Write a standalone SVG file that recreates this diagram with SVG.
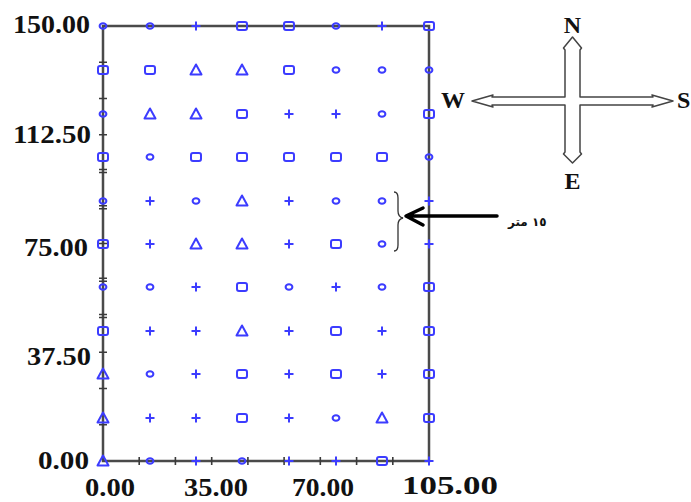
<svg xmlns="http://www.w3.org/2000/svg" xmlns:xlink="http://www.w3.org/1999/xlink" width="691" height="502" viewBox="0 0 691 502">
<style>
.ax{stroke:#4a4a4a;stroke-width:2.5;fill:none}
.tk{stroke:#3a3a3a;stroke-width:1.6}
.lbl{font-family:"Liberation Serif","Times New Roman",serif;font-weight:bold;font-size:25px;fill:#111}
.cmp{font-family:"Liberation Serif","Times New Roman",serif;font-weight:bold;font-size:24px;fill:#111}
.mk{stroke:#3c3cff;stroke-width:2;fill:none;stroke-linejoin:round}
</style>
<defs>
<ellipse id="o" class="mk" cx="0" cy="0" rx="3.4" ry="2.8"/>
<rect id="s" class="mk" x="-5" y="-4" width="10" height="8" rx="2"/>
<path id="t" class="mk" d="M0,-5.5 L5.5,4.5 L-5.5,4.5 Z"/>
<path id="p" class="mk" d="M-4.5,0 H4.5 M0,-4.5 V4.5"/>
</defs>
<rect width="691" height="502" fill="#fff"/>
<g id="axes">
<rect class="ax" x="103" y="26" width="326" height="435"/>
<path class="tk" d="M99,62.2h8M99,98.5h8M99,134.8h8M99,169.5h8M99,172.5h8M99,205.8h8M99,208.8h8M99,243.5h8M99,278.3h8M99,281.3h8M99,314.5h8M99,317.5h8M99,352.2h8M99,388.5h8M99,424.8h8"/>
<path class="tk" d="M139.2,457v8M175.4,457v8M211.7,457v8M247.9,457v8M284.1,457v8M320.3,457v8M356.6,457v8M392.8,457v8"/>
</g>
<g id="axis-labels">
<text class="lbl" x="13" y="33" textLength="77" lengthAdjust="spacingAndGlyphs">150.00</text>
<text class="lbl" x="13" y="143" textLength="78" lengthAdjust="spacingAndGlyphs">112.50</text>
<text class="lbl" x="24" y="256" textLength="64" lengthAdjust="spacingAndGlyphs">75.00</text>
<text class="lbl" x="27" y="365" textLength="64" lengthAdjust="spacingAndGlyphs">37.50</text>
<text class="lbl" x="38" y="469" textLength="51" lengthAdjust="spacingAndGlyphs">0.00</text>
<text class="lbl" x="85" y="496" textLength="50" lengthAdjust="spacingAndGlyphs">0.00</text>
<text class="lbl" x="184" y="496" textLength="64" lengthAdjust="spacingAndGlyphs">35.00</text>
<text class="lbl" x="292" y="496" textLength="62" lengthAdjust="spacingAndGlyphs">70.00</text>
<text class="lbl" x="402" y="494" textLength="96" lengthAdjust="spacingAndGlyphs">105.00</text>
</g>
<g id="markers">
<use href="#o" x="103" y="26"/><use href="#o" x="150" y="26"/><use href="#p" x="196" y="26"/><use href="#s" x="242" y="26"/><use href="#s" x="289" y="26"/><use href="#o" x="336" y="26"/><use href="#p" x="382" y="26"/><use href="#s" x="429" y="26"/>
<use href="#s" x="103" y="70"/><use href="#s" x="150" y="70"/><use href="#t" x="196" y="70"/><use href="#t" x="242" y="70"/><use href="#s" x="289" y="70"/><use href="#o" x="336" y="70"/><use href="#o" x="382" y="70"/><use href="#o" x="429" y="70"/>
<use href="#o" x="103" y="114"/><use href="#t" x="150" y="114"/><use href="#t" x="196" y="114"/><use href="#s" x="242" y="114"/><use href="#p" x="289" y="114"/><use href="#p" x="336" y="114"/><use href="#o" x="382" y="114"/><use href="#s" x="429" y="114"/>
<use href="#s" x="103" y="157"/><use href="#o" x="150" y="157"/><use href="#s" x="196" y="157"/><use href="#s" x="242" y="157"/><use href="#s" x="289" y="157"/><use href="#s" x="336" y="157"/><use href="#s" x="382" y="157"/><use href="#o" x="429" y="157"/>
<use href="#o" x="103" y="201"/><use href="#p" x="150" y="201"/><use href="#o" x="196" y="201"/><use href="#t" x="242" y="201"/><use href="#p" x="289" y="201"/><use href="#o" x="336" y="201"/><use href="#o" x="382" y="201"/><use href="#p" x="429" y="201"/>
<use href="#s" x="103" y="244"/><use href="#p" x="150" y="244"/><use href="#t" x="196" y="244"/><use href="#t" x="242" y="244"/><use href="#p" x="289" y="244"/><use href="#s" x="336" y="244"/><use href="#o" x="382" y="244"/><use href="#p" x="429" y="244"/>
<use href="#o" x="103" y="287"/><use href="#o" x="150" y="287"/><use href="#p" x="196" y="287"/><use href="#s" x="242" y="287"/><use href="#o" x="289" y="287"/><use href="#p" x="336" y="287"/><use href="#o" x="382" y="287"/><use href="#s" x="429" y="287"/>
<use href="#s" x="103" y="331"/><use href="#p" x="150" y="331"/><use href="#p" x="196" y="331"/><use href="#t" x="242" y="331"/><use href="#p" x="289" y="331"/><use href="#s" x="336" y="331"/><use href="#p" x="382" y="331"/><use href="#s" x="429" y="331"/>
<use href="#t" x="103" y="374"/><use href="#o" x="150" y="374"/><use href="#p" x="196" y="374"/><use href="#s" x="242" y="374"/><use href="#p" x="289" y="374"/><use href="#s" x="336" y="374"/><use href="#p" x="382" y="374"/><use href="#s" x="429" y="374"/>
<use href="#t" x="103" y="418"/><use href="#p" x="150" y="418"/><use href="#p" x="196" y="418"/><use href="#s" x="242" y="418"/><use href="#p" x="289" y="418"/><use href="#o" x="336" y="418"/><use href="#t" x="382" y="418"/><use href="#s" x="429" y="418"/>
<use href="#t" x="103" y="461"/><use href="#o" x="150" y="461"/><use href="#p" x="196" y="461"/><use href="#o" x="242" y="461"/><use href="#p" x="289" y="461"/><use href="#p" x="336" y="461"/><use href="#s" x="382" y="461"/><use href="#p" x="429" y="461"/>
</g>
<g id="compass">
<polygon points="572.5,37 581.5,48 580,50 580,97 653,97 652,95 673,101 652,107 653,105 580,105 580,152 581.5,154 572.5,163 563.5,154 565,152 565,105 492,105 493,107 472,101 493,95 492,97 565,97 565,50 563.5,48" fill="#fff" stroke="#444" stroke-width="1.5" stroke-linejoin="round"/>
<text class="cmp" x="572.5" y="33" text-anchor="middle">N</text>
<text class="cmp" x="572.5" y="189" text-anchor="middle">E</text>
<text class="cmp" x="465" y="108" text-anchor="end">W</text>
<text class="cmp" x="677" y="108">S</text>
</g>
<g id="annotation">
<path d="M394,192 Q398,192 398,198 L398,211 Q398,217 403,218 Q398,219 398,225 L398,245 Q398,251 394,251" fill="none" stroke="#333" stroke-width="1.3"/>
<path d="M497,216 H407 M423,208 L406,216 L423,225" fill="none" stroke="#000" stroke-width="3.5" stroke-linecap="round" stroke-linejoin="round"/>
<text x="508" y="226" font-family="'DejaVu Sans',sans-serif" font-weight="bold" font-size="12" fill="#111">١٥ متر</text>
</g>
</svg>
